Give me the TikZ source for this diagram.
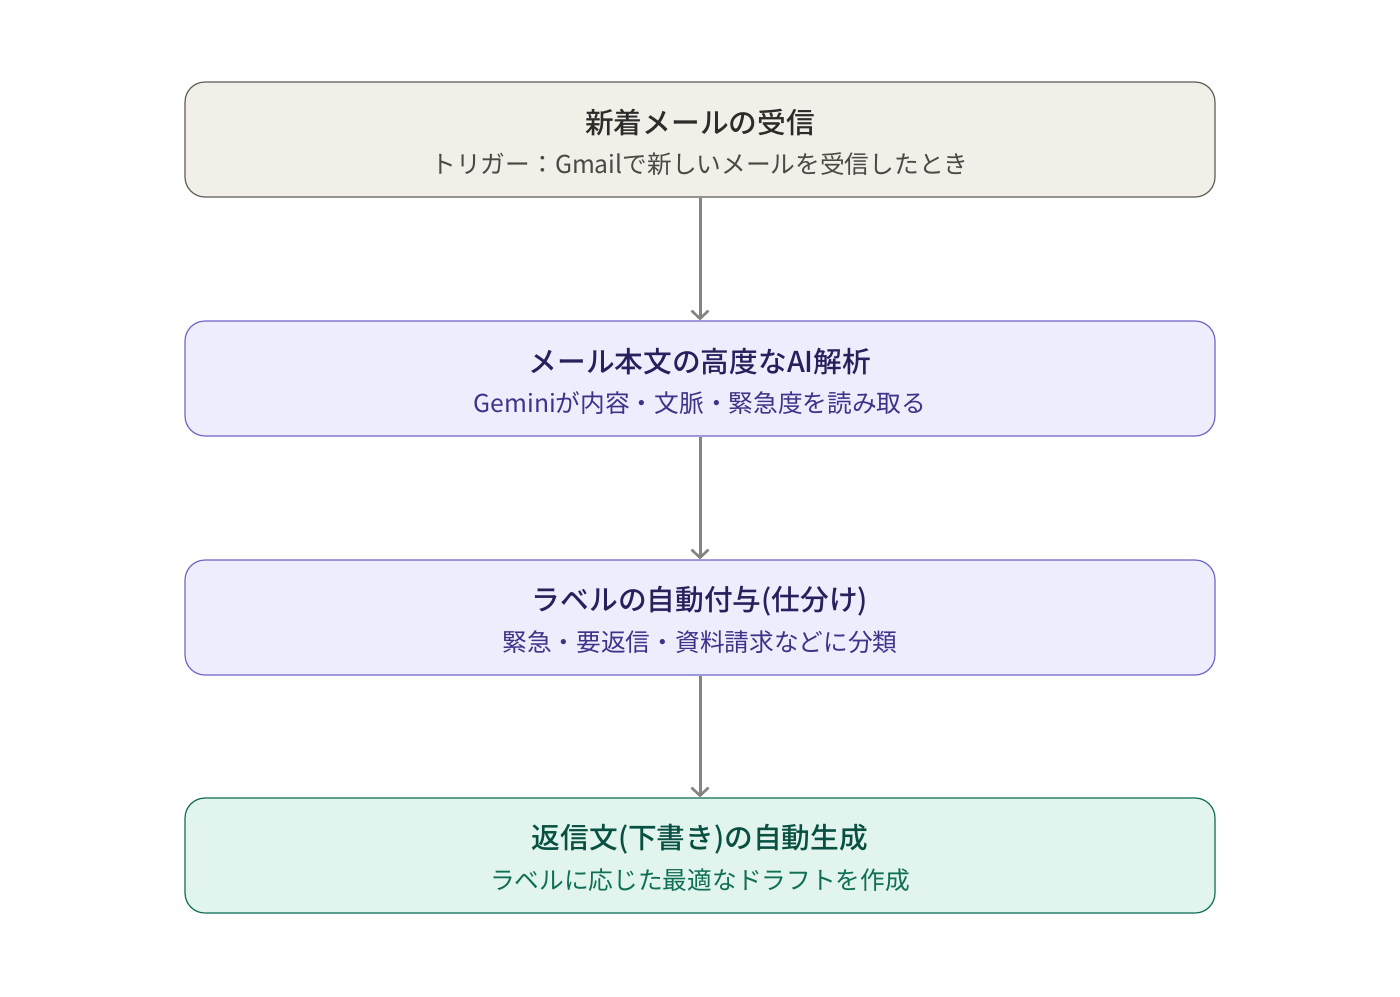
\documentclass[tikz,border=0pt]{standalone}
\usepackage{fontspec}
\setmainfont{Noto Sans CJK JP}[BoldFont={Noto Sans CJK JP Medium}]
\usetikzlibrary{arrows.meta}
\definecolor{grayfill}{HTML}{F1EFE8}
\definecolor{grayline}{HTML}{5F5E5A}
\definecolor{graytitle}{HTML}{2C2C2A}
\definecolor{graysub}{HTML}{4A4946}
\definecolor{purpfill}{HTML}{EEEDFE}
\definecolor{purpline}{HTML}{6F67C8}
\definecolor{purptitle}{HTML}{26215C}
\definecolor{purpsub}{HTML}{3C3489}
\definecolor{greenfill}{HTML}{E1F5EE}
\definecolor{greenline}{HTML}{0F6E56}
\definecolor{greentitle}{HTML}{085041}
\definecolor{greensub}{HTML}{0F6E56}
\definecolor{arrowgray}{HTML}{858480}
\tikzset{
  box/.style={draw, rounded corners=20pt, line width=1.2pt, minimum width=1030pt, minimum height=115pt, inner sep=0pt},
  graybox/.style={box, fill=grayfill, draw=grayline},
  purpbox/.style={box, fill=purpfill, draw=purpline},
  greenbox/.style={box, fill=greenfill, draw=greenline},
  ttl/.style={font=\fontsize{28.7}{32}\selectfont\bfseries, inner sep=0pt, anchor=center},
  sub/.style={font=\fontsize{24.7}{28}\selectfont, inner sep=0pt, anchor=center},
  conn/.style={draw=arrowgray, line width=3pt, -{Straight Barb[length=8pt,width=17pt,line width=2.6pt]}}
}
\begin{document}
\begin{tikzpicture}[x=1pt,y=-1pt]
\useasboundingbox[fill=white] (0,0) rectangle (1400,996);
\node[graybox] (b1) at (700,139.5) {};
\node[purpbox] (b2) at (700,378.5) {};
\node[purpbox] (b3) at (700,617.5) {};
\node[greenbox] (b4) at (700,855.5) {};
\node[ttl, text=graytitle] (t1) at (700,123) {新着メールの受信};
\node[sub, text=graysub] (s1) at (700,164) {トリガー：Gmailで新しいメールを受信したとき};
\node[ttl, text=purptitle] (t2) at (700,362) {メール本文の高度なAI解析};
\node[sub, text=purpsub] (s2) at (700,403) {Geminiが内容・文脈・緊急度を読み取る};
\node[ttl, text=purptitle] (t3) at (700,601) {ラベルの自動付与(仕分け)};
\node[sub, text=purpsub] (s3) at (700,642) {緊急・要返信・資料請求などに分類};
\node[ttl, text=greentitle] (t4) at (700,839) {返信文(下書き)の自動生成};
\node[sub, text=greensub] (s4) at (700,880) {ラベルに応じた最適なドラフトを作成};
\draw[conn] (b1.south) -- (b2.north);
\draw[conn] (b2.south) -- (b3.north);
\draw[conn] (b3.south) -- (b4.north);
\end{tikzpicture}
\end{document}
